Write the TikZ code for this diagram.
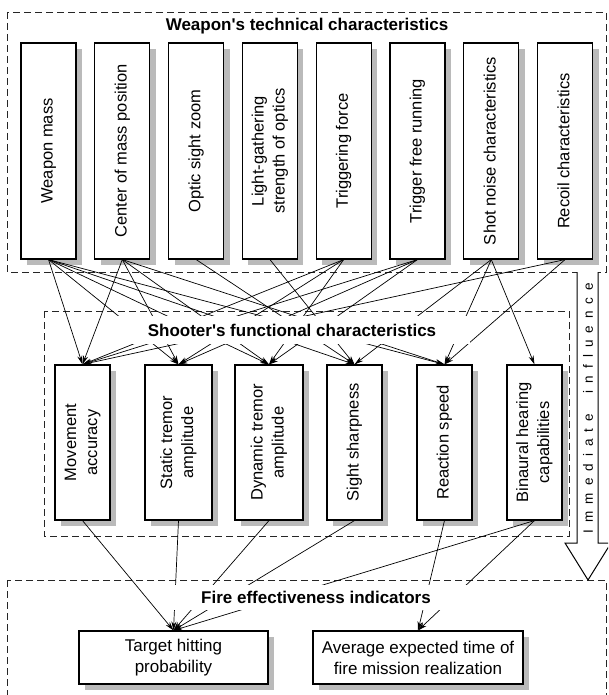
\documentclass[tikz,border=0pt]{standalone}
\usepackage{fontspec}
\setmainfont{Liberation Sans}
\usepackage{graphicx}
\usetikzlibrary{arrows.meta,shadows}
\begin{document}
\begin{tikzpicture}[x=1pt,y=-1pt,
  frame/.style={draw=black!85, dash pattern=on 7pt off 4pt, line width=0.9pt},
  box/.style={draw=black, line width=1.1pt, fill=white, inner sep=0pt, align=center,
    drop shadow={shadow xshift=6pt, shadow yshift=-6pt, fill=black!27, opacity=1},
    font=\fontsize{16.5}{21}\selectfont},
  tbox/.style={box, minimum width=55pt, minimum height=216pt},
  mbox/.style={box, minimum height=155pt},
  bbox/.style={box, minimum height=53pt, font=\fontsize{17}{21}\selectfont},
  title/.style={font=\bfseries\fontsize{17}{20}\selectfont, inner sep=0pt},
  conn/.style={draw=black, line width=0.7pt, -{Stealth[length=9pt,width=5pt]}},
  bigarrow/.style={draw=black, line width=1pt, fill=white}
]
\useasboundingbox (0,0) rectangle (608,695);
\clip (0,0) rectangle (608,695);

% frames
\draw[frame] (7,12) rectangle (606,272);
\draw[frame] (44,311) rectangle (569,536);
\draw[frame] (7,580) rectangle (606,720);

% title of top frame
\node[title] (tw) at (307,26) {Weapon\textquotesingle s technical characteristics};

% top boxes
\newcommand{\vtxt}[1]{\rotatebox{90}{\begin{tabular}{@{}c@{}}#1\end{tabular}}}
\node[tbox] (T1) at (48.5,151) {\vtxt{Weapon mass}};
\node[tbox] (T2) at (122.3,151) {\vtxt{Center of mass position}};
\node[tbox] (T3) at (196.1,151) {\vtxt{Optic sight zoom}};
\node[tbox] (T4) at (269.9,151) {\vtxt{Light-gathering\\strength of optics}};
\node[tbox] (T5) at (343.7,151) {\vtxt{Triggering force}};
\node[tbox] (T6) at (417.5,151) {\vtxt{Trigger free running}};
\node[tbox] (T7) at (491.3,151) {\vtxt{Shot noise characteristics}};
\node[tbox] (T8) at (565.1,151) {\vtxt{Recoil characteristics}};

% middle boxes
\node[mbox, minimum width=55pt] (M1) at (82.5,442.5) {\vtxt{Movement\\accuracy}};
\node[mbox, minimum width=67pt] (M2) at (178.5,442.5) {\vtxt{Static tremor\\amplitude}};
\node[mbox, minimum width=68pt] (M3) at (269,442.5) {\vtxt{Dynamic tremor\\amplitude}};
\node[mbox, minimum width=55pt] (M4) at (354.5,442.5) {\vtxt{Sight sharpness}};
\node[mbox, minimum width=55pt] (M5) at (444.5,442.5) {\vtxt{Reaction speed}};
\node[mbox, minimum width=55pt] (M6) at (534.5,442.5) {\vtxt{Binaural hearing\\capabilities}};

% bottom boxes
\node[bbox, minimum width=189pt] (B1) at (173.5,657.5) {Target hitting\\probability};
\node[bbox, minimum width=210pt] (B2) at (418,657.5) {Average expected time of\\fire mission realization};

% connectors top -> middle
\foreach \s/\t in {T1/M1,T1/M2,T1/M3,T1/M4,T1/M5,
                   T2/M1,T2/M2,T2/M3,T2/M5,
                   T3/M4,T4/M4,
                   T5/M1,T5/M2,T5/M3,
                   T6/M1,T6/M2,T6/M3,
                   T7/M4,T7/M5,T7/M6,
                   T8/M1,T8/M5}
  \draw[conn] (\s.south) -- (\t.north);

% connectors middle -> bottom
\foreach \s/\t in {M1/B1,M2/B1,M3/B1,M4/B1,M6/B1,M5/B2,M6/B2}
  \draw[conn] (\s.south) -- (\t.north);

% labels with white background
\node[title, fill=white, minimum width=355pt, minimum height=28pt] (ts) at (292,330) {Shooter\textquotesingle s functional characteristics};
\node[title, fill=white, minimum width=308pt, minimum height=25pt] (tf) at (316,597) {Fire effectiveness indicators};

% immediate influence arrow
\draw[bigarrow] (577,272) -- (577,543) -- (565,543) -- (588,580) -- (611,543) -- (598,543) -- (598,272);
\node[rotate=90, font=\fontsize{13.5}{15}\selectfont, inner sep=0pt] (ii) at (588,408)
  {\makebox[250pt][s]{I m m e d i a t e\ \ \ i n f l u e n c e}};
\end{tikzpicture}
\end{document}
